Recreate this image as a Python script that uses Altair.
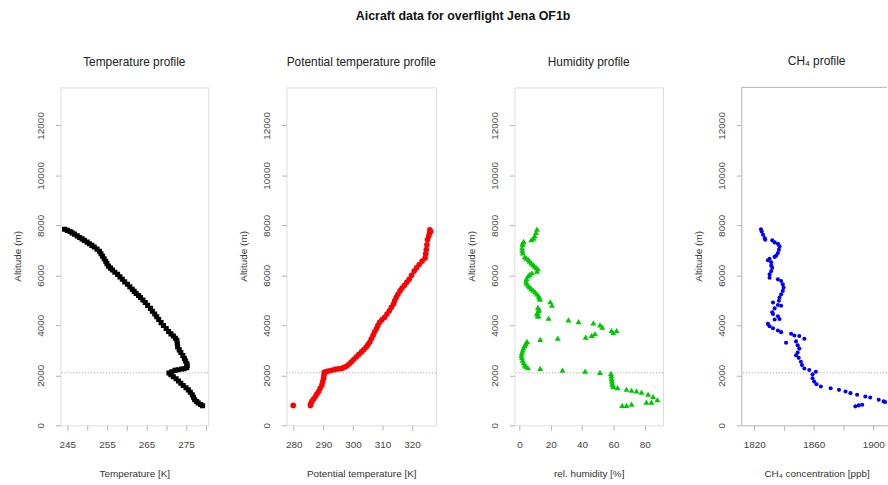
import altair as alt
import pandas as pd

FONT = "Liberation Sans"
BOX = "#b3b3b3"
ALT_MAX = 13520
Y_TICKS = [0, 2000, 4000, 6000, 8000, 10000, 12000]
INVERSION_ALT = 2100

# ---- Temperature profile (K, m) ----
temp_K = [244.3, 245.0, 245.7, 246.2, 246.8, 247.5, 248.1, 248.7, 249.3, 250.0, 250.6, 251.2,
          251.8, 252.5, 253.1, 253.5, 253.9, 254.3, 254.7, 255.0, 255.4, 255.9, 256.4, 257.0,
          257.7, 258.3, 258.9, 259.5, 260.2, 260.8, 261.4, 261.9, 262.4, 263.0, 263.5, 264.1,
          264.7, 265.3, 266.0, 266.5, 267.1, 267.6, 268.1, 268.7, 269.3, 270.0, 270.6, 271.2,
          271.8, 272.3, 272.7, 272.8, 272.9, 273.3, 273.7, 274.2, 274.6, 274.9, 275.2, 275.3,
          275.2, 274.5, 273.9, 273.0, 272.2, 271.4, 270.7, 271.2, 271.8, 272.5, 273.1, 273.7,
          274.3, 275.0, 275.6, 276.1, 276.6, 276.9, 277.2, 277.7, 278.1, 278.7, 279.2]
temp_alt = [7847, 7800, 7755, 7700, 7649, 7580, 7517, 7460, 7399, 7330, 7267, 7200,
            7135, 7050, 6963, 6865, 6765, 6665, 6567, 6470, 6369, 6290, 6211, 6125,
            6039, 5940, 5841, 5740, 5643, 5545, 5445, 5360, 5273, 5195, 5115, 5015,
            4917, 4800, 4679, 4567, 4455, 4343, 4231, 4110, 3993, 3875, 3755, 3660,
            3571, 3485, 3399, 3265, 3135, 3020, 2911, 2790, 2673, 2575, 2475, 2390,
            2303, 2262, 2251, 2225, 2198, 2145, 2092, 2020, 1947, 1860, 1775, 1680,
            1591, 1505, 1419, 1320, 1221, 1120, 1023, 955, 891, 835, 785]

# ---- Potential temperature profile (K, m) ----
theta_K = [279.8, 285.6, 285.8, 286.1, 286.7, 287.3, 287.8, 288.4, 288.9, 289.5, 289.8, 290.05,
           290.2, 290.3, 291.0, 291.7, 292.8, 293.9, 295.0, 296.2, 297.0, 297.9, 298.7, 299.5,
           300.3, 301.2, 302.0, 302.9, 303.7, 304.5, 305.1, 305.7, 306.2, 306.8, 307.3, 307.9,
           308.4, 309.0, 309.8, 310.7, 311.5, 312.3, 313.0, 313.7, 314.1, 314.6, 315.2, 315.9,
           316.6, 317.4, 318.2, 319.0, 319.8, 320.7, 321.5, 322.4, 323.4, 324.4, 324.6, 324.8,
           325.0, 325.2, 325.6, 325.9, 326.3, 326.0]
theta_alt = [798, 798, 880, 957, 1055, 1155, 1255, 1353, 1485, 1617, 1750, 1881,
             2000, 2119, 2150, 2171, 2205, 2237, 2258, 2277, 2320, 2369, 2450, 2541,
             2640, 2739, 2840, 2937, 3035, 3135, 3235, 3333, 3465, 3597, 3730, 3861,
             3990, 4125, 4225, 4323, 4455, 4587, 4720, 4851, 4985, 5115, 5245, 5379,
             5490, 5603, 5720, 5841, 6000, 6171, 6300, 6435, 6570, 6699, 6860, 7029,
             7225, 7425, 7560, 7689, 7755, 7820]

# ---- Humidity profile (%, m) ----
rh_pct = [11.2, 10.6, 9.7, 9.1, 7.6, 2.7, 2.0, 2.1, 1.7, 1.9, 2.1, 3.4, 4.5, 5.9, 6.5, 7.6,
          8.7, 9.7, 10.8, 11.8, 11.2, 8.0, 6.5, 5.5, 4.6, 4.2, 4.5, 5.5, 6.5, 7.6, 8.8, 10.1,
          11.2, 12.3, 12.8, 13.1, 19.7, 20.7, 11.8, 12.5, 12.3, 11.5, 11.2, 12.0, 11.8, 18.6,
          31.3, 37.7, 47.2, 51.4, 52.9, 58.8, 62.0, 59.9, 48.2, 46.1, 42.3, 24.5, 13.3, 4.9,
          4.1, 3.4, 2.6, 2.1, 1.6, 1.3, 1.6, 2.1, 2.7, 3.4, 4.4, 5.5, 13.3, 27.5, 41.9, 51.4,
          58.4, 58.6, 58.8, 59.0, 59.2, 59.5, 59.9, 62.6, 68.3, 71.5, 74.7, 77.9, 82.1, 85.3,
          88.0, 84.2, 81.0, 71.5, 68.3, 65.6]
rh_alt = [7847, 7715, 7583, 7491, 7425, 7359, 7290, 7227, 7095, 6995, 6897, 6739, 6690, 6633, 6565, 6501,
          6435, 6369, 6316, 6263, 6171, 6105, 6040, 5973, 5880, 5775, 5690, 5603, 5537, 5471, 5405, 5339,
          5260, 5181, 5115, 5049, 4943, 4811, 4719, 4650, 4587, 4520, 4455, 4400, 4363, 4283,
          4217, 4151, 4099, 4019, 3927, 3795, 3795, 3703, 3663, 3597, 3531, 3491, 3439, 3359,
          3280, 3201, 3100, 3003, 2905, 2805, 2706, 2607, 2508, 2409, 2356, 2303, 2277, 2211, 2171, 2119,
          2079, 1980, 1881, 1780, 1683, 1620, 1551, 1511, 1445, 1405, 1379, 1327, 1247, 1155,
          1023, 931, 931, 851, 798, 798]

# ---- CH4 profile (ppb, m) ----
ch4_ppb = [1824.5, 1825.0, 1825.9, 1827.0, 1827.4, 1832.1, 1833.7, 1835.9, 1837.0, 1836.6, 1835.9,
           1834.8, 1833.7, 1830.3, 1829.2, 1831.4, 1831.4, 1832.1, 1831.4, 1830.3, 1830.3, 1835.9,
           1838.1, 1839.2, 1839.7, 1839.2, 1838.1, 1837.0, 1836.6, 1832.6, 1835.9, 1838.1, 1833.7,
           1832.1, 1832.6, 1835.9, 1837.0, 1833.7, 1829.2, 1830.3, 1832.6, 1835.9, 1838.1, 1844.8,
           1847.0, 1850.3, 1853.7, 1841.4, 1848.1, 1849.2, 1850.3, 1849.2, 1848.1, 1849.9, 1851.4,
           1852.1, 1853.7, 1857.0, 1861.4, 1859.2, 1859.2, 1860.3, 1861.9, 1864.8, 1871.4, 1877.0,
           1881.4, 1884.7, 1889.2, 1894.7, 1898.0, 1903.7, 1907.0, 1908.0, 1888.0, 1890.3, 1892.6]
ch4_alt = [7847, 7755, 7623, 7491, 7425, 7399, 7319, 7267, 7161, 7029, 6897,
           6791, 6739, 6659, 6607, 6527, 6395, 6303, 6171, 6039, 5907, 5841,
           5775, 5643, 5511, 5379, 5247, 5115, 4983, 4917, 4811, 4785, 4679,
           4521, 4455, 4363, 4257, 4231, 4059, 3967, 3887, 3795, 3729, 3663,
           3597, 3571, 3465, 3307, 3359, 3201, 3069, 2911, 2805, 2699, 2541,
           2409, 2277, 2211, 2145, 2039, 1881, 1749, 1643, 1551, 1485, 1419,
           1353, 1287, 1221, 1155, 1115, 1023, 957, 931, 759, 798, 825]


def y_axis(domain=False):
    return alt.Axis(title="Altitude (m)", values=Y_TICKS, format="d", grid=False,
                    domain=domain, domainColor=BOX, tickColor=BOX, tickSize=5,
                    labelAngle=270, labelAlign="center", labelBaseline="bottom",
                    labelPadding=10, labelFontSize=10, labelColor="#444", labelFont=FONT,
                    labelOverlap=False, labelFlush=False,
                    titleX=-43, titleY=170, titleAngle=270, titleAlign="center",
                    titleBaseline="middle", titleFontSize=10, titleFont=FONT,
                    titleFontWeight="normal", titleColor="#333")


def x_axis(title, values, label_expr, domain=False, title_x=None):
    kw = {}
    if title_x is not None:
        kw = dict(titleX=title_x, titleAlign="center")
    return alt.Axis(title=title, values=values, labelExpr=label_expr, grid=False,
                    domain=domain, domainColor=BOX, tickColor=BOX, tickSize=5,
                    labelPadding=9, labelFontSize=10, labelColor="#444", labelFont=FONT,
                    labelOverlap=False, labelFlush=False, titlePadding=20,
                    titleFontSize=10, titleFont=FONT, titleFontWeight="normal",
                    titleColor="#333", **kw)


def panel(values, alts, name, color, shape, size, xdomain, xaxis, title, width,
          title_dx=0, framed=True):
    df = pd.DataFrame({name: values, "alt": alts})
    pts = alt.Chart(df).mark_point(filled=True, shape=shape, size=size, color=color,
                                   opacity=1, clip=True).encode(
        x=alt.X(f"{name}:Q", scale=alt.Scale(domain=xdomain, nice=False, zero=False), axis=xaxis),
        y=alt.Y("alt:Q", scale=alt.Scale(domain=[0, ALT_MAX], nice=False, zero=False),
                axis=y_axis(domain=not framed)),
    )
    rule = alt.Chart(pd.DataFrame({"a": [INVERSION_ALT]})).mark_rule(
        color="#999999", strokeDash=[1, 2], strokeWidth=1).encode(y="a:Q")
    layers = [rule, pts]
    if not framed:
        top = alt.Chart(pd.DataFrame({"a": [ALT_MAX]})).mark_rule(
            color=BOX, strokeWidth=1).encode(y="a:Q")
        layers.append(top)
    ch = alt.layer(*layers).properties(
        width=width, height=341,
        title=alt.TitleParams(title, fontSize=12, fontWeight="normal", font=FONT,
                              color="#222", offset=19, anchor="middle", dx=title_dx))
    if not framed:
        ch = ch.properties(view=alt.ViewBackground(stroke="transparent"))
    return ch


p1 = panel(temp_K, temp_alt, "T", "black", "square", 26, [243.25, 280.6],
           x_axis("Temperature [K]", [245, 250, 255, 260, 265, 270, 275, 280],
                  "(datum.value - 245) % 10 == 0 ? datum.value : ''"),
           "Temperature profile", 149)
p2 = panel(theta_K, theta_alt, "theta", "red", "circle", 32, [277.5, 328.1],
           x_axis("Potential temperature [K]", [280, 290, 300, 310, 320], "datum.value"),
           "Potential temperature profile", 151)
p3 = panel(rh_pct, rh_alt, "rh", "#00c800", "triangle-up", 36, [-3.2, 91.6],
           x_axis("rel. humidity [%]", [0, 20, 40, 60, 80], "datum.value"),
           "Humidity profile", 150)
p4 = panel(ch4_ppb, ch4_alt, "ch4", "#0000ff", "circle", 17, [1811.3, 1909.3],
           x_axis("CH₄ concentration [ppb]", [1820, 1840, 1860, 1880, 1900],
                  "(datum.value - 1820) % 40 == 0 ? datum.value : ''", domain=True, title_x=76),
           "CH₄ profile", 147, title_dx=2.5, framed=False)

chart = alt.hconcat(p1, p2, p3, p4, spacing=29).properties(
    title=alt.TitleParams("Aicraft data for overflight Jena OF1b", fontSize=12.5,
                          fontWeight="bold", font=FONT, color="#111", offset=32,
                          anchor="middle", dx=13),
    padding={"left": 12, "top": 8, "right": 0, "bottom": 0},
).configure_view(stroke=BOX, strokeWidth=1).configure(background="white")

chart.save("out.html", embed_options={"renderer": "svg", "actions": False})
